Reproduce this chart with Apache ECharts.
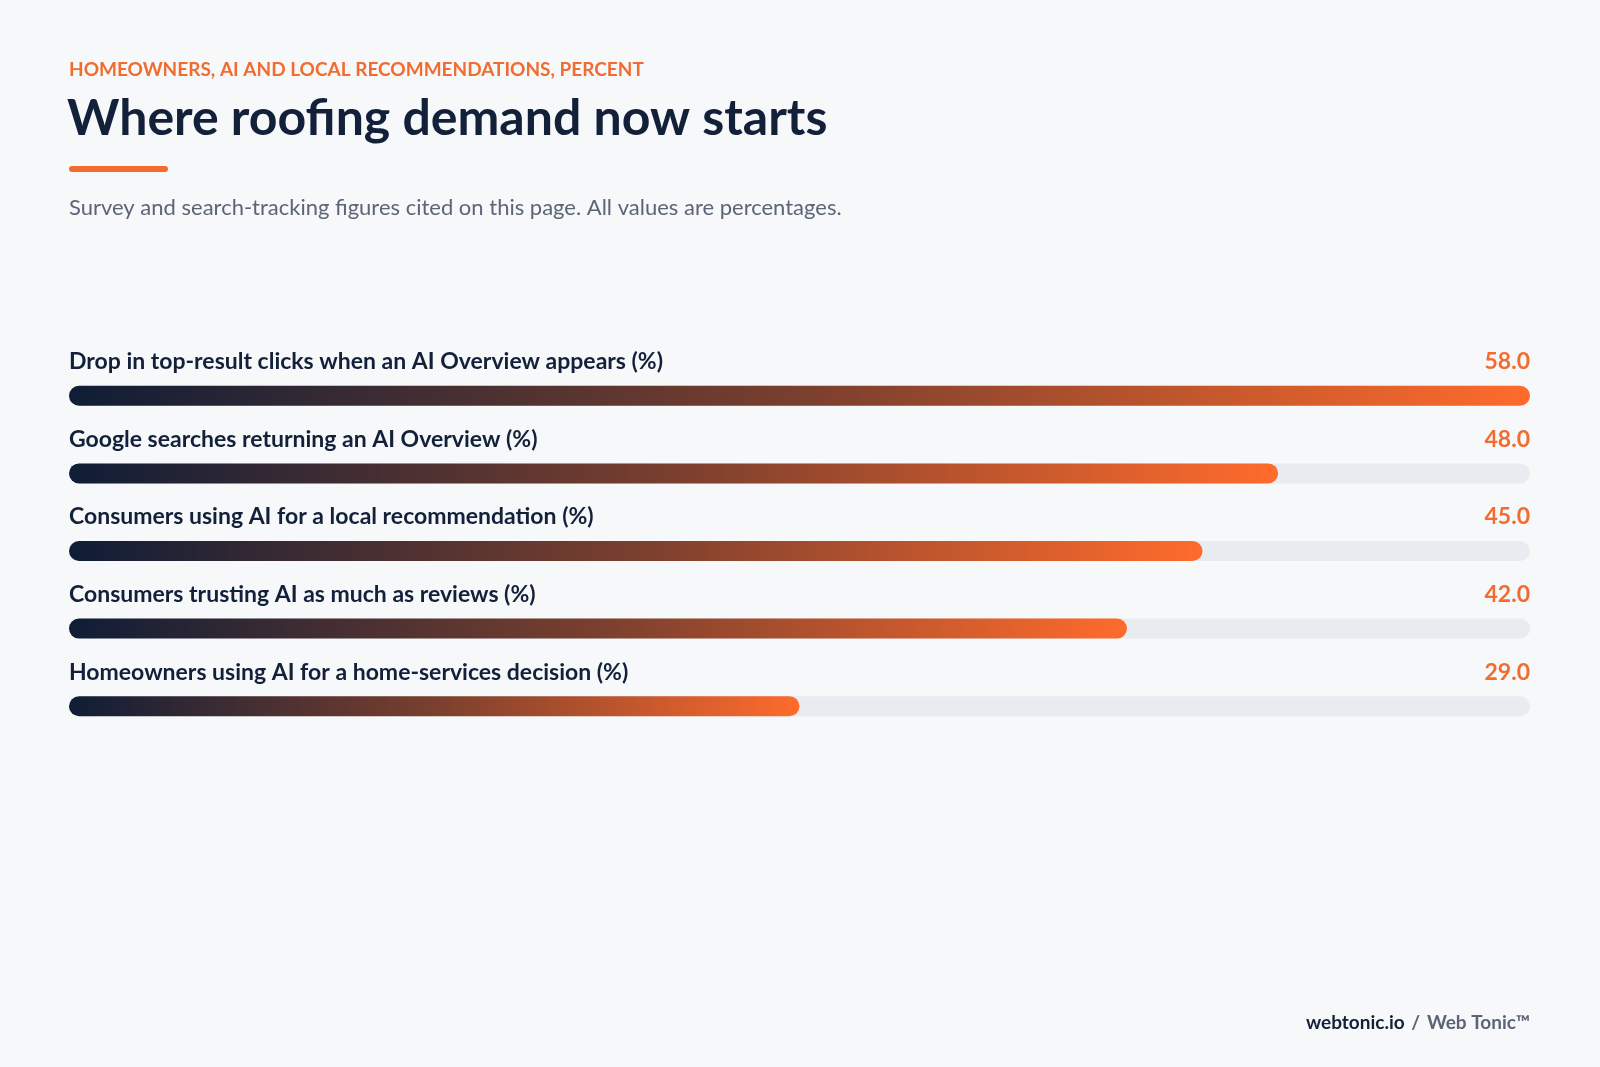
<!DOCTYPE html>
<html><head><meta charset="utf-8">
<script src="https://cdn.jsdelivr.net/npm/echarts@6/dist/echarts.min.js"></script>
<style>html,body{margin:0;background:#f6f8fa}#c{width:1600px;height:1067px}</style>
</head><body><div id="c"></div>
<script>
const categories = [
  'Drop in top-result clicks when an AI Overview appears (%)',
  'Google searches returning an AI Overview (%)',
  'Consumers using AI for a local recommendation (%)',
  'Consumers trusting AI as much as reviews (%)',
  'Homeowners using AI for a home-services decision (%)'
];
const values = [58.0, 48.0, 45.0, 42.0, 29.0];
const axisMax = 58;

const chart = echarts.init(document.getElementById('c'));
const font = 'Lato';
chart.setOption({
  backgroundColor: '#f6f8fa',
  animation: false,
  textStyle: {fontFamily: font},
  grid: {left: 69, right: 70, top: 357, height: 388},
  xAxis: {type: 'value', min: 0, max: axisMax, show: false},
  yAxis: {type: 'category', data: categories, inverse: true, show: false},
  graphic: [
    {type: 'text', left: 69, top: 60, style: {text: 'HOMEOWNERS, AI AND LOCAL RECOMMENDATIONS, PERCENT', fill: '#f26b2f', font: 'bold 19px Lato', letterSpacing: 2.5}},
    {type: 'text', left: 67, top: 94, style: {text: 'Where roofing demand now starts', fill: '#13203a', font: 'bold 50px Lato', letterSpacing: -1}},
    {type: 'rect', left: 69, top: 166, shape: {width: 99, height: 6, r: 3}, style: {fill: '#f26b2f'}},
    {type: 'text', left: 69, top: 197, style: {text: 'Survey and search-tracking figures cited on this page. All values are percentages.', fill: '#5b6577', font: '22px Lato'}},
    {type: 'text', right: 70, top: 1013, style: {text: '{a|webtonic.io}  {b|/}  {c|Web Tonic™}', rich: {
      a: {fill: '#13203a', font: 'bold 19px Lato', letterSpacing: 1},
      b: {fill: '#5b6577', font: 'bold 19px Lato'},
      c: {fill: '#5b6577', font: 'bold 19px Lato', letterSpacing: 1}}}}
  ],
  series: [
    {
      type: 'bar', data: values, barWidth: 20, z: 3,
      showBackground: true,
      backgroundStyle: {color: '#e8ebef', borderRadius: 10},
      itemStyle: {borderRadius: 10, color: new echarts.graphic.LinearGradient(0, 0, 1, 0, [
        {offset: 0, color: '#0f1d36'}, {offset: 0.5, color: '#7a3f2e'}, {offset: 1, color: '#ff6b2c'}])},
      label: {show: true, position: [0, -24], align: 'left', verticalAlign: 'middle',
        formatter: p => p.name, color: '#13203a', fontSize: 23, fontWeight: 'bold', fontFamily: font}
    },
    {
      type: 'bar', data: values.map(() => axisMax), barWidth: 20, barGap: '-100%', z: 2,
      itemStyle: {color: 'rgba(0,0,0,0)'},
      label: {show: true, position: ['100%', -24], align: 'right', verticalAlign: 'middle',
        formatter: p => values[p.dataIndex].toFixed(1), color: '#f26b2f', fontSize: 23, fontWeight: 'bold', fontFamily: font}
    }
  ]
});
</script></body></html>
